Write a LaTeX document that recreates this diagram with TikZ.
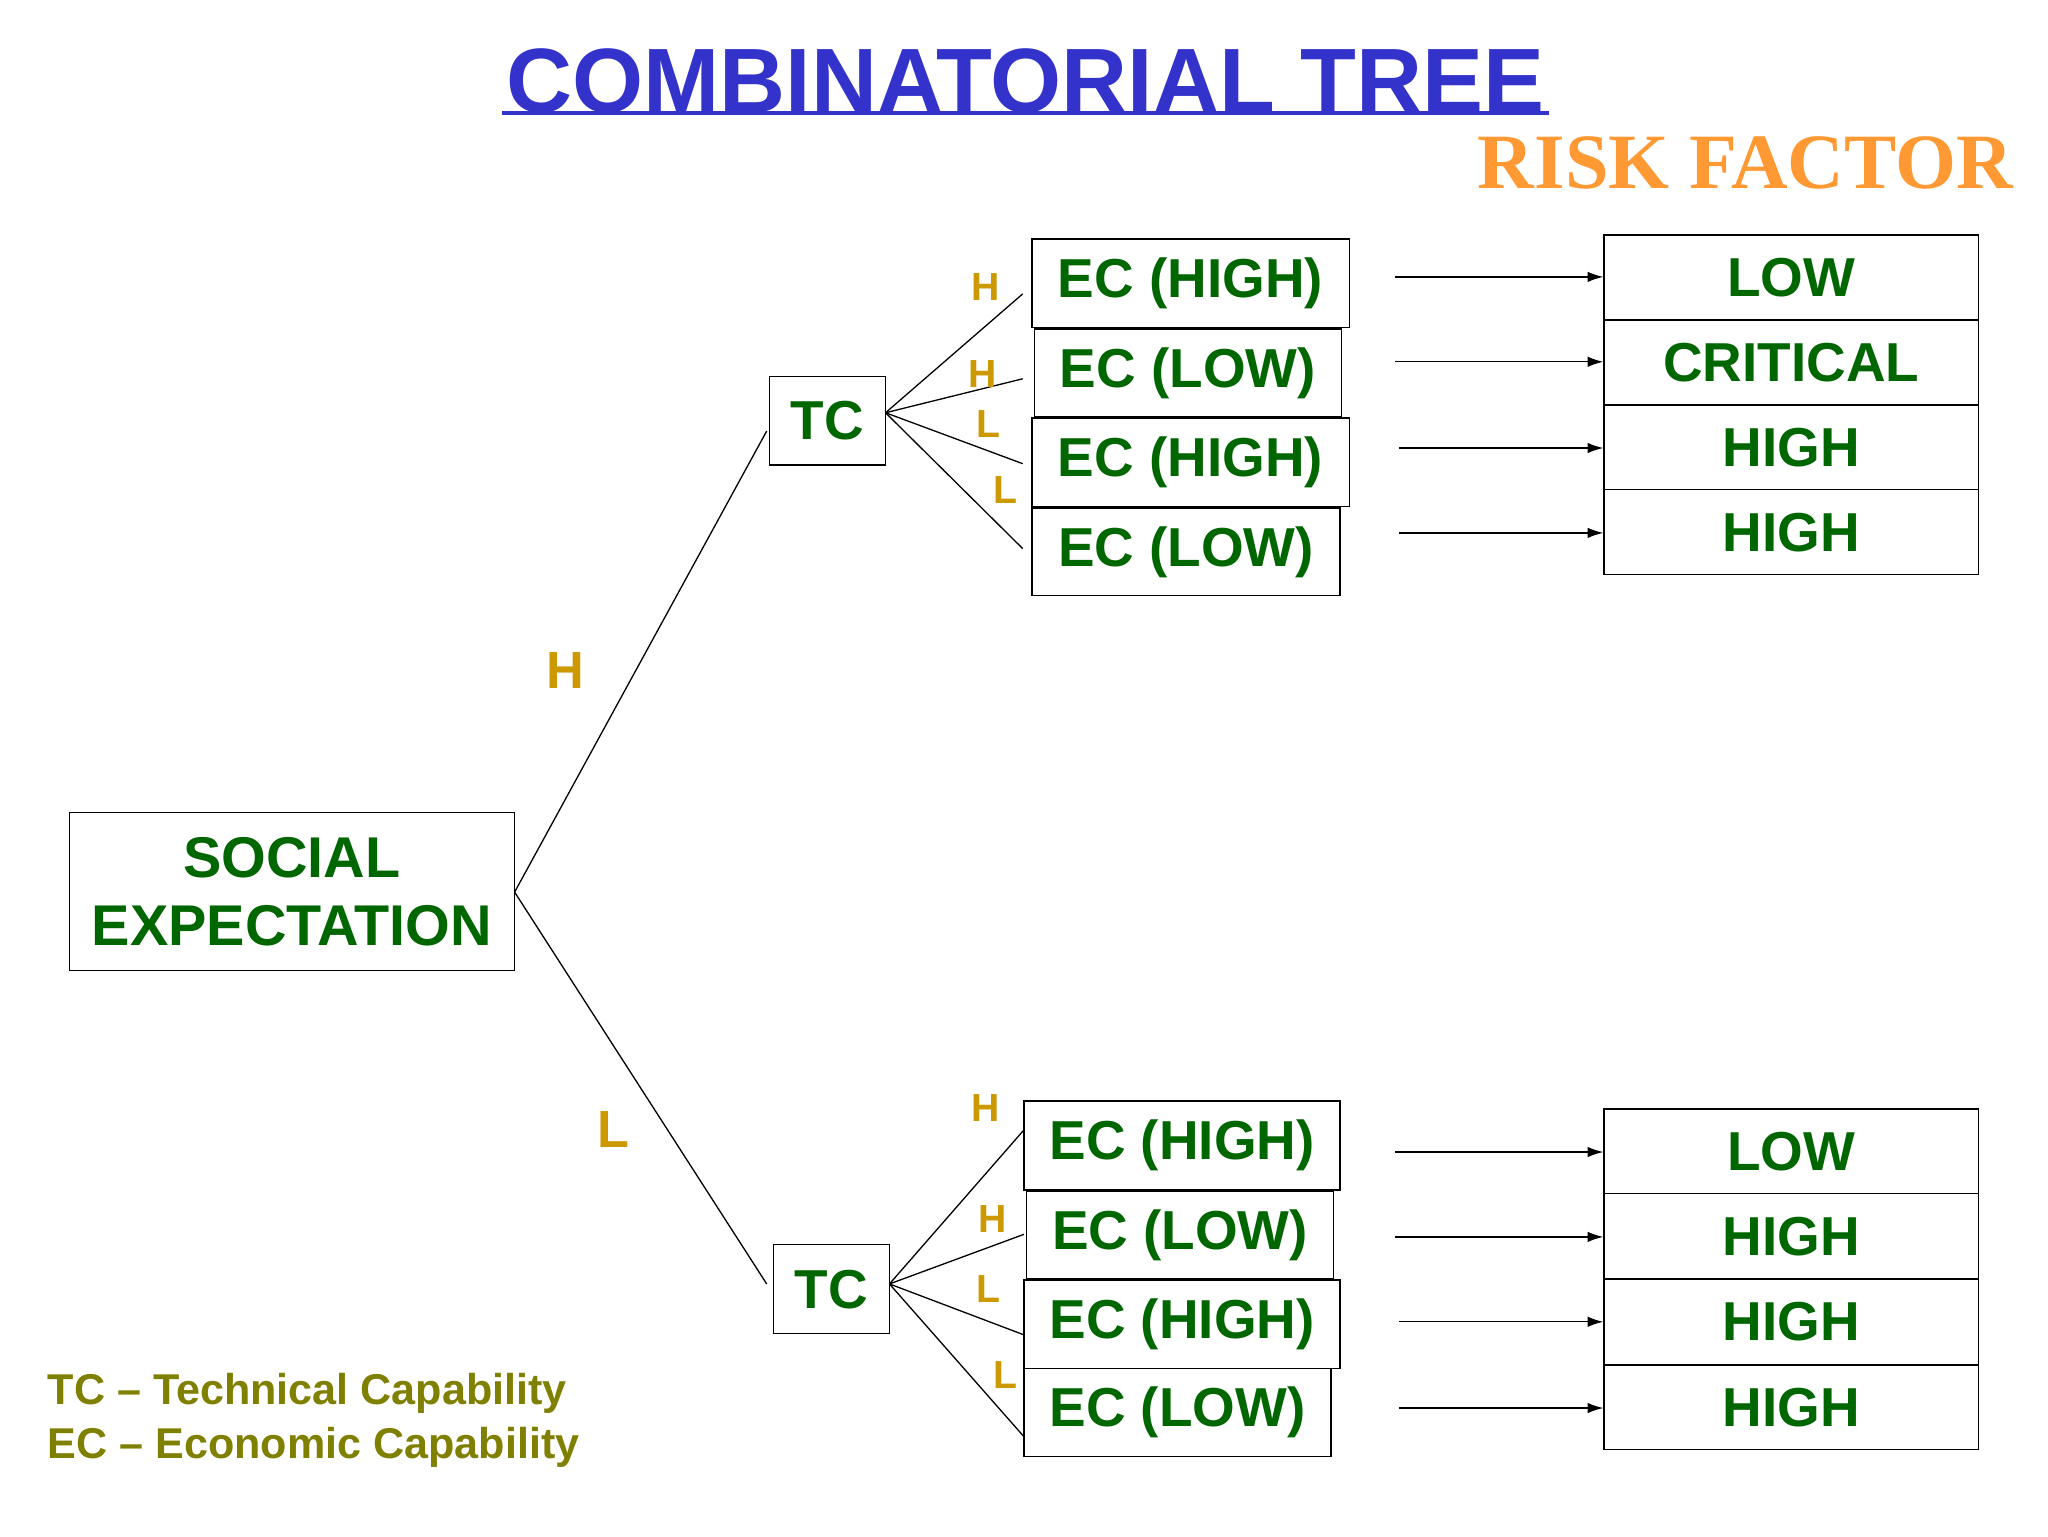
\documentclass[tikz,border=0pt]{standalone}
\usepackage{fontspec}
\setmainfont{Liberation Sans}
\newfontfamily\serifb{Liberation Serif}
\usetikzlibrary{arrows.meta}
\definecolor{tgreen}{HTML}{006600}
\definecolor{tgold}{HTML}{CC9900}
\definecolor{tblue}{HTML}{3333CC}
\definecolor{torange}{HTML}{FF9933}
\definecolor{tolive}{HTML}{808000}
\begin{document}
\begin{tikzpicture}[x=1pt,y=-1pt,
  box/.style={draw,line width=1pt,inner sep=0pt,font=\bfseries\fontsize{42}{44}\selectfont,text=tgreen},
  res/.style={box,minimum width=287pt,minimum height=65pt},
  lab/.style={font=\bfseries\fontsize{30}{32}\selectfont,text=tgold},
  arr/.style={-{Latex[length=12pt,width=8pt]},line width=1pt},
  ln/.style={line width=1pt}]
\useasboundingbox (0,0) rectangle (1568,1176);
\fill[white] (0,0) rectangle (1568,1176);
\begin{scope}
\clip (0,0) rectangle (1568,1176);
\node[anchor=west,font=\serifb\bfseries\fontsize{60}{62}\selectfont,text=torange] (rf) at (1128,125) {RISK FACTOR};
\end{scope}
\node[font=\bfseries\fontsize{70}{72}\selectfont,text=tblue] (title) at (785,62) {COMBINATORIAL TREE};
\draw[tblue,line width=3pt] (title.south west)++(0,-4) coordinate (u1) -- (title.south east|-u1);

\node[box,minimum width=341pt,minimum height=121pt,align=center,font=\bfseries\fontsize{44}{52}\selectfont] (se) at (223.5,682.5) {SOCIAL\\EXPECTATION};
\node[box,minimum width=89pt,minimum height=68pt] (tc1) at (633.5,322) {TC};
\node[box,minimum width=89pt,minimum height=68pt] (tc2) at (636.5,987) {TC};

\node[box,minimum width=243pt,minimum height=68pt] (e1) at (911.5,217) {EC (HIGH)};
\node[box,minimum width=235pt,minimum height=67pt] (e2) at (909.5,285.5) {EC (LOW)};
\node[box,minimum width=243pt,minimum height=68pt] (e3) at (911.5,354) {EC (HIGH)};
\node[box,minimum width=236pt,minimum height=67pt] (e4) at (908,422.5) {EC (LOW)};
\node[box,minimum width=242pt,minimum height=68pt] (f1) at (905,877) {EC (HIGH)};
\node[box,minimum width=235pt,minimum height=67pt] (f2) at (903.5,945.5) {EC (LOW)};
\node[box,minimum width=242pt,minimum height=68pt] (f3) at (905,1014) {EC (HIGH)};
\node[box,minimum width=235pt,minimum height=67pt] (f4) at (901.5,1081.5) {EC (LOW)};

\node[res] (r1) at (1371.5,212.5) {LOW};
\node[res] (r2) at (1371.5,277.5) {CRITICAL};
\node[res] (r3) at (1371.5,342.5) {HIGH};
\node[res] (r4) at (1371.5,407.5) {HIGH};
\node[res] (s1) at (1371.5,881.5) {LOW};
\node[res] (s2) at (1371.5,946.5) {HIGH};
\node[res] (s3) at (1371.5,1012) {HIGH};
\node[res] (s4) at (1371.5,1077.5) {HIGH};

\coordinate (sep) at (394,683);
\draw[ln] (sep) -- (587,330);
\draw[ln] (sep) -- (587,983);
\coordinate (t1) at (678,316);
\foreach \y in {225,290,355,420} \draw[ln] (t1) -- (783,\y);
\coordinate (t2) at (681,983);
\foreach \y in {865,945,1022,1100} \draw[ln] (t2) -- (784,\y);

\foreach \a/\b/\y in {e1/r1/212,e2/r2/277} \draw[arr] (1068,\y) -- (\b.west|-0,\y);
\foreach \a/\b/\y in {e3/r3/343,e4/r4/408} \draw[arr] (1071,\y) -- (\b.west|-0,\y);
\foreach \a/\b/\y in {f1/s1/882,f2/s2/947} \draw[arr] (1068,\y) -- (\b.west|-0,\y);
\foreach \a/\b/\y in {f3/s3/1012,f4/s4/1078} \draw[arr] (1071,\y) -- (\b.west|-0,\y);

\node[lab,font=\bfseries\fontsize{40}{42}\selectfont] (lh) at (433,513) {H};
\node[lab,font=\bfseries\fontsize{40}{42}\selectfont] (ll) at (470,865) {L};
\node[lab] (a1) at (755,220) {H};
\node[lab] (a2) at (752,286) {H};
\node[lab] (a3) at (757,325) {L};
\node[lab] (a4) at (770,375) {L};
\node[lab] (b1) at (755,848) {H};
\node[lab] (b2) at (760,933) {H};
\node[lab] (b3) at (757,987) {L};
\node[lab] (b4) at (770,1053) {L};

\node[anchor=west,font=\bfseries\fontsize{33}{35}\selectfont,text=tolive] (lg1) at (33,1067) {TC -- Technical Capability};
\node[anchor=west,font=\bfseries\fontsize{33}{35}\selectfont,text=tolive] (lg2) at (33,1108) {EC -- Economic Capability};
\end{tikzpicture}
\end{document}
